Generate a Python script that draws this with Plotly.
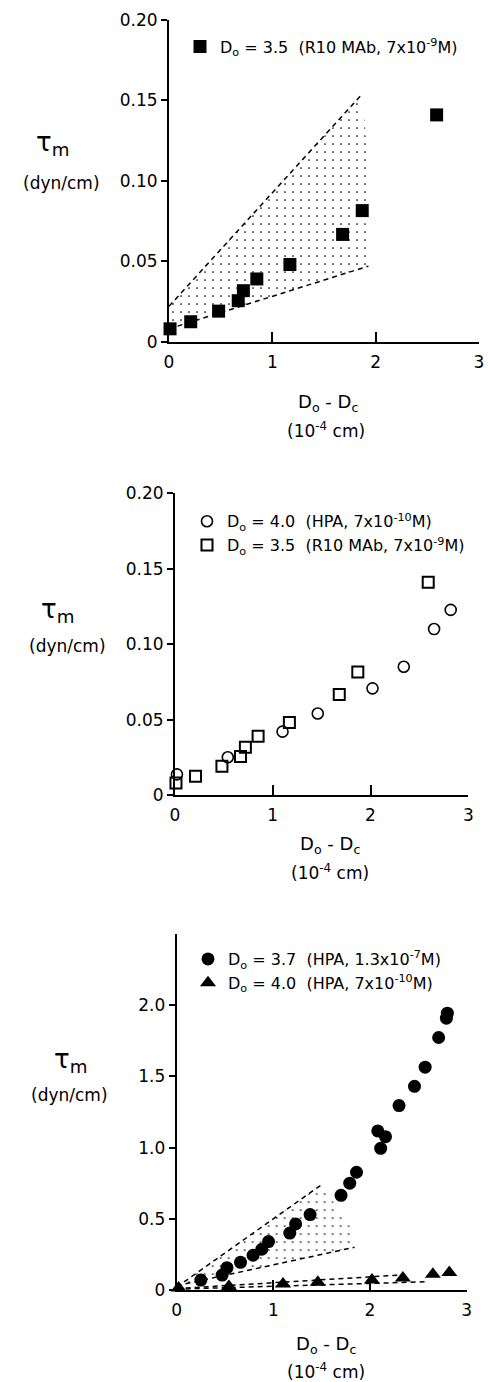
import plotly.graph_objects as go

W, H = 488, 1382
FONT = "DejaVu Sans"

# ---------------- data ----------------
# R10 MAb, Do = 3.5 (panel A and B squares)
r10_x = [0.01, 0.21, 0.48, 0.67, 0.72, 0.85, 1.17, 1.68, 1.87, 2.59]
r10_y = [0.008, 0.0124, 0.019, 0.0255, 0.0317, 0.039, 0.048, 0.0667, 0.0815, 0.141]

# HPA 7x10^-10 M, Do = 4.0 (panel B circles, panel C triangles)
hpa_lo_x = [0.02, 0.54, 1.10, 1.46, 2.02, 2.34, 2.65, 2.82]
hpa_lo_y = [0.0137, 0.025, 0.042, 0.054, 0.0707, 0.085, 0.110, 0.1227]

# HPA 1.3x10^-7 M, Do = 3.7 (panel C filled circles)
hpa_hi_x = [0.25, 0.47, 0.52, 0.66, 0.79, 0.88, 0.95, 1.17, 1.23, 1.38, 1.70, 1.79,
            1.86, 2.08, 2.11, 2.16, 2.30, 2.46, 2.57, 2.71, 2.79, 2.80]
hpa_hi_y = [0.07, 0.105, 0.157, 0.194, 0.244, 0.286, 0.34, 0.40, 0.464, 0.53, 0.665, 0.75,
            0.827, 1.117, 0.995, 1.077, 1.295, 1.43, 1.565, 1.773, 1.909, 1.944]

# predicted envelopes (dashed bounds, dotted band)
a_up_x, a_up_y = [0.0, 1.87], [0.022, 0.154]
a_lo_x, a_lo_y = [0.0, 1.93], [0.008, 0.047]
a_edge_x, a_edge_y = [1.93], [0.109]

c_up_x, c_up_y = [0.0, 1.50], [0.02, 0.74]
c_lo_x, c_lo_y = [0.0, 1.84], [0.03, 0.30]
c_edge_x, c_edge_y = [1.81], [0.43]

t_up_x, t_up_y = [0.0, 2.31], [0.01, 0.105]
t_lo_x, t_lo_y = [0.0, 2.59], [0.006, 0.058]

x_ticks = [0, 1, 2, 3]
x_ticktext = ["0", "1", "2", "3"]
ab_yticks = [0, 0.05, 0.10, 0.15, 0.20]
ab_yticktext = ["0", "0.05", "0.10", "0.15", "0.20"]
c_yticks = [0, 0.5, 1.0, 1.5, 2.0]
c_yticktext = ["0", "0.5", "1.0", "1.5", "2.0"]

lab_r10 = "D<sub>o</sub> = 3.5  (R10 MAb, 7x10<sup>-9</sup>M)"
lab_hpa_lo = "D<sub>o</sub> = 4.0  (HPA, 7x10<sup>-10</sup>M)"
lab_hpa_hi = "D<sub>o</sub> = 3.7  (HPA, 1.3x10<sup>-7</sup>M)"

# ---------------- figure ----------------
fig = go.Figure()


def band(xa, ya, xr, yr, xlo, ylo, xax, yax):
    px = xa + xr + xlo[::-1]
    py = ya + yr + ylo[::-1]
    fig.add_trace(go.Scatter(
        x=px, y=py, mode="lines", fill="toself", line=dict(width=0),
        fillcolor="rgba(0,0,0,0)",
        fillpattern=dict(shape=".", size=8, solidity=0.035, fgcolor="black",
                         bgcolor="rgba(0,0,0,0)", fgopacity=1),
        xaxis=xax, yaxis=yax, showlegend=False, hoverinfo="skip"))


def dashed(xs, ys, xax, yax):
    fig.add_trace(go.Scatter(
        x=xs, y=ys, mode="lines", line=dict(color="black", width=1.5, dash="5px,4px"),
        xaxis=xax, yaxis=yax, showlegend=False, hoverinfo="skip"))


# Panel A
band(a_up_x, a_up_y, a_edge_x, a_edge_y, a_lo_x, a_lo_y, "x", "y")
dashed(a_up_x, a_up_y, "x", "y")
dashed(a_lo_x, a_lo_y, "x", "y")
fig.add_trace(go.Scatter(
    x=r10_x, y=r10_y, mode="markers", name=lab_r10,
    marker=dict(symbol="square", size=13, color="black"),
    xaxis="x", yaxis="y", legend="legend", cliponaxis=False))

# Panel B
fig.add_trace(go.Scatter(
    x=hpa_lo_x, y=hpa_lo_y, mode="markers", name=lab_hpa_lo,
    marker=dict(symbol="circle-open", size=11, color="black", line=dict(width=1.6)),
    xaxis="x2", yaxis="y2", legend="legend2", cliponaxis=False))
fig.add_trace(go.Scatter(
    x=r10_x, y=r10_y, mode="markers", name=lab_r10,
    marker=dict(symbol="square-open", size=11, color="black", line=dict(width=2)),
    xaxis="x2", yaxis="y2", legend="legend2", cliponaxis=False))

# Panel C
band(c_up_x, c_up_y, c_edge_x, c_edge_y, c_lo_x, c_lo_y, "x3", "y3")
dashed(c_up_x, c_up_y, "x3", "y3")
dashed(c_lo_x, c_lo_y, "x3", "y3")
dashed(t_up_x, t_up_y, "x3", "y3")
dashed(t_lo_x, t_lo_y, "x3", "y3")
fig.add_trace(go.Scatter(
    x=hpa_hi_x, y=hpa_hi_y, mode="markers", name=lab_hpa_hi,
    marker=dict(symbol="circle", size=13, color="black"),
    xaxis="x3", yaxis="y3", legend="legend3", cliponaxis=False))
fig.add_trace(go.Scatter(
    x=hpa_lo_x, y=hpa_lo_y, mode="markers", name=lab_hpa_lo,
    marker=dict(symbol="triangle-up", size=14, color="black"),
    xaxis="x3", yaxis="y3", legend="legend3", cliponaxis=False))


def px_x(v):
    return v / W


def px_y(v):
    return 1 - v / H


def xaxis_style(x0, x1, anchor):
    return dict(domain=[px_x(x0), px_x(x1)], anchor=anchor, range=[0, 3],
                tickvals=x_ticks, ticktext=x_ticktext, ticks="inside", ticklen=10,
                tickwidth=1.5, tickcolor="black", showline=True, linecolor="black",
                linewidth=2, showgrid=False, zeroline=False, ticklabelstandoff=4,
                automargin=False,
                tickfont=dict(family=FONT, size=17, color="black"), fixedrange=True)


def yaxis_style(ytop, ybot, anchor, rng, tv, tt):
    return dict(domain=[px_y(ybot), px_y(ytop)], anchor=anchor, range=rng,
                tickvals=tv, ticktext=tt, ticks="outside", ticklen=6,
                tickwidth=1.5, tickcolor="black", showline=True, linecolor="black",
                linewidth=2, showgrid=False, zeroline=False, automargin=False,
                tickfont=dict(family=FONT, size=17, color="black"), fixedrange=True)


leg_common = dict(font=dict(family=FONT, size=16, color="black"), bgcolor="rgba(0,0,0,0)",
                  xanchor="left", yanchor="middle", itemclick=False, tracegroupgap=0)

fig.update_layout(
    width=W, height=H, margin=dict(l=0, r=0, t=0, b=0, pad=0, autoexpand=False),
    paper_bgcolor="white", plot_bgcolor="white",
    font=dict(family=FONT, color="black"),
    xaxis=xaxis_style(169, 479, "y"),
    yaxis=yaxis_style(20, 341.7, "x", [0, 0.2], ab_yticks, ab_yticktext),
    xaxis2=xaxis_style(175, 468.3, "y2"),
    yaxis2=yaxis_style(493.3, 795, "x2", [0, 0.2], ab_yticks, ab_yticktext),
    xaxis3=xaxis_style(176.7, 466.7, "y3"),
    yaxis3=yaxis_style(934, 1290, "x3", [0, 2.5], c_yticks, c_yticktext),
    legend=dict(x=px_x(180), y=px_y(46.7), **leg_common),
    legend2=dict(x=px_x(187), y=px_y(533.3), **leg_common),
    legend3=dict(x=px_x(188), y=px_y(971), **leg_common),
    showlegend=True,
)

ann = []


def text(s, x, y, size=17):
    ann.append(dict(text=s, x=px_x(x), y=px_y(y), xref="paper", yref="paper",
                    showarrow=False, xanchor="center", yanchor="middle",
                    font=dict(family=FONT, size=size, color="black")))


xtitle = "D<sub>o</sub> - D<sub>c</sub>"
xunit = "(10<sup>-4</sup> cm)"
ytitle = "τ<sub>m</sub>"
yunit = "(dyn/cm)"

# panel A
text(ytitle, 52, 143, 26)
text(yunit, 61, 183, 17)
text(xtitle, 328, 403, 18)
text(xunit, 326, 430, 17)
# panel B
text(ytitle, 57, 610, 26)
text(yunit, 67, 646, 17)
text(xtitle, 330, 845, 18)
text(xunit, 330, 872, 17)
# panel C
text(ytitle, 70, 1060, 26)
text(yunit, 69, 1095, 17)
text(xtitle, 326, 1345, 18)
text(xunit, 326, 1371, 17)

fig.update_layout(annotations=ann)

fig.write_html(
    "out.html",
    config={"displayModeBar": False},
    post_script="document.body.style.margin='0';document.body.style.padding='0';"
                "document.body.style.overflow='hidden';",
)
